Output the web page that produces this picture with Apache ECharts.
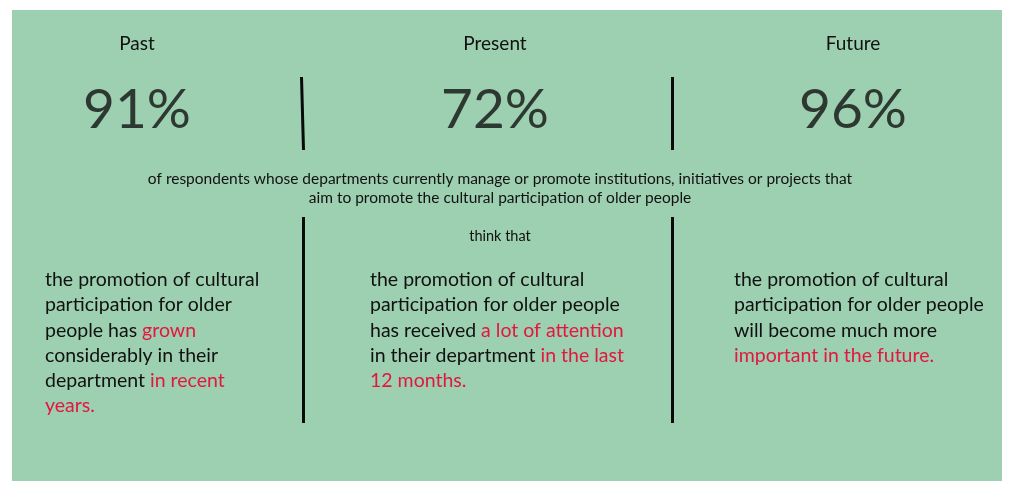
<!DOCTYPE html>
<html>
<head>
<meta charset="utf-8">
<script src="https://cdn.jsdelivr.net/npm/echarts@6/dist/echarts.min.js"></script>
<style>
html,body{margin:0;padding:0;background:#fff;}
#main{width:1014px;height:481px;}
</style>
</head>
<body>
<div id="main"></div>
<script>
const categories = ['Past', 'Present', 'Future'];
const percentages = [91, 72, 96];
const subtitleLines = [
  'of respondents whose departments currently manage or promote institutions, initiatives or projects that',
  'aim to promote the cultural participation of older people'
];
const connector = 'think that';
// each statement: list of lines, each line a list of [text, highlighted]
const statementPast = [
  [['the promotion of cultural', false]],
  [['participation for older', false]],
  [['people has ', false], ['grown', true]],
  [['considerably in their', false]],
  [['department ', false], ['in recent', true]],
  [['years.', true]]
];
const statementPresent = [
  [['the promotion of cultural', false]],
  [['participation for older people', false]],
  [['has received ', false], ['a lot of attention', true]],
  [['in their department ', false], ['in the last', true]],
  [['12 months.', true]]
];
const statementFuture = [
  [['the promotion of cultural', false]],
  [['participation for older people', false]],
  [['will become much more', false]],
  [['important in the future.', true]]
];

const FONT = 'Lato, "Open Sans", sans-serif';
const INK = '#111111';
const RED = '#e3173e';
const GREEN = '#9dcfb1';

function richText(lines) {
  return lines.map(line => line.map(([t, h]) => '{' + (h ? 'r' : 'n') + '|' + t + '}').join('')).join('\n');
}
function statement(lines, x) {
  return {
    type: 'text', x: x, y: 267, z: 10,
    style: {
      text: richText(lines),
      rich: {
        n: { fontSize: 19.5, fontFamily: FONT, fill: INK, lineHeight: 25.3 },
        r: { fontSize: 19.5, fontFamily: FONT, fill: RED, lineHeight: 25.3 }
      }
    }
  };
}
function divider(x1, y1, x2, y2) {
  return { type: 'line', z: 10, shape: { x1, y1, x2, y2 }, style: { stroke: '#0a0a0a', lineWidth: 3 } };
}

const chart = echarts.init(document.getElementById('main'), null, { renderer: 'canvas' });
chart.setOption({
  backgroundColor: '#ffffff',
  animation: false,
  grid: { left: -42, width: 1074, top: 90, height: 40, outerBoundsMode: 'none', containLabel: false },
  xAxis: {
    type: 'category', data: categories, position: 'top', boundaryGap: true,
    axisLine: { show: false }, axisTick: { show: false }, splitLine: { show: false },
    axisLabel: { margin: 37, fontSize: 19, fontFamily: FONT, color: INK }
  },
  yAxis: { type: 'value', min: 0, max: 1, show: false },
  graphic: [
    { type: 'rect', z: 0, shape: { x: 12, y: 10, width: 990, height: 471 }, style: { fill: GREEN } },
    divider(301.5, 77, 303.5, 150),
    divider(672.5, 77, 672.5, 150),
    divider(303.5, 217, 303.5, 423),
    divider(672.5, 217, 672.5, 423),
    { type: 'text', z: 10, x: 500, y: 169, style: {
      text: subtitleLines.join('\n'), align: 'center', fontSize: 15.5, fontFamily: FONT, fill: INK, lineHeight: 19 } },
    { type: 'text', z: 10, x: 500, y: 236, style: {
      text: connector, align: 'center', verticalAlign: 'middle', fontSize: 14.5, fontFamily: FONT, fill: INK } },
    statement(statementPast, 45),
    statement(statementPresent, 370),
    statement(statementFuture, 734)
  ],
  series: [{
    type: 'scatter', z: 20,
    symbolSize: 2, itemStyle: { color: 'rgba(0,0,0,0)' },
    labelLayout: { hideOverlap: false },
    data: categories.map((c, i) => ({ value: [c, 0.5], pct: percentages[i] })),
    label: {
      show: true, position: 'inside',
      formatter: p => p.data.pct + '%',
      fontSize: 55, fontWeight: 'normal', fontFamily: FONT, color: INK
    }
  }]
});
</script>
</body>
</html>
